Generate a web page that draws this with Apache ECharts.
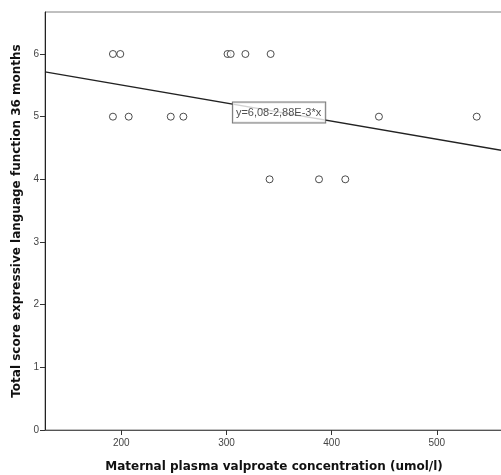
<!DOCTYPE html>
<html><head><meta charset="utf-8">
<script src="https://cdn.jsdelivr.net/npm/echarts@6/dist/echarts.min.js"></script>
<style>html,body{margin:0;padding:0;background:#fff}#c{width:501px;height:475px}</style>
</head><body><div id="c"></div>
<script>
// Data
const concentration = [192, 199, 301, 304, 318, 342, 192, 207, 247, 259, 445, 538, 341, 388, 413];
const score =         [6,   6,   6,   6,   6,   6,   5,   5,   5,   5,   5,   5,   4,   4,   4];
const xTicks = [200, 300, 400, 500];
const yTicks = [0, 1, 2, 3, 4, 5, 6];
const intercept = 6.08;
const slope = -0.00288;
const fitLabel = 'y=6,08-2,88E-3*x';
const labelAt = [350, 5.066];
const xMin = 127.4, xMax = 563;
const yMin = 0, yMax = 6.67;

const font = '"Liberation Sans", Arial, sans-serif';
const titleFont = '"DejaVu Sans", Verdana, sans-serif';
const chart = echarts.init(document.getElementById('c'), null, {renderer: 'canvas'});
chart.setOption({
  backgroundColor: '#fff',
  animation: false,
  grid: {left: 45, top: 12, right: -2, bottom: 45, containLabel: false, outerBoundsMode: 'none',
         show: true, borderColor: '#808080', borderWidth: 1},
  xAxis: {
    type: 'value', min: xMin, max: xMax,
    name: 'Maternal plasma valproate concentration (umol/l)',
    nameLocation: 'middle', nameGap: 31,
    nameTextStyle: {fontFamily: titleFont, fontWeight: 'bold', fontSize: 12, color: '#111'},
    axisLine: {show: true, lineStyle: {color: '#555', width: 1}},
    axisTick: {show: true, length: 5, customValues: xTicks, lineStyle: {color: '#333'}},
    axisLabel: {customValues: xTicks, fontFamily: font, fontSize: 10, color: '#444', margin: 8},
    splitLine: {show: false}
  },
  yAxis: {
    type: 'value', min: yMin, max: yMax,
    name: 'Total score expressive language function 36 months',
    nameLocation: 'middle', nameGap: 22,
    nameTextStyle: {fontFamily: titleFont, fontWeight: 'bold', fontSize: 12, color: '#111'},
    axisLine: {show: true, lineStyle: {color: '#222', width: 1}},
    axisTick: {show: true, length: 5, customValues: yTicks, lineStyle: {color: '#333'}},
    axisLabel: {customValues: yTicks, fontFamily: font, fontSize: 10, color: '#444', margin: 6},
    splitLine: {show: false}
  },
  series: [
    {
      type: 'line', silent: true, symbol: 'none', z: 2,
      lineStyle: {color: '#222', width: 1.3},
      data: [[xMin, intercept + slope * xMin], [xMax, intercept + slope * xMax]]
    },
    {
      type: 'scatter', z: 3, symbol: 'circle', symbolSize: 7,
      itemStyle: {color: '#fff', borderColor: '#222', borderWidth: 1},
      data: concentration.map((c, i) => [c, score[i]])
    },
    {
      type: 'scatter', z: 5, symbol: 'circle', symbolSize: 1, silent: true,
      itemStyle: {color: 'rgba(0,0,0,0)'},
      data: [labelAt],
      label: {
        show: true, position: 'inside', formatter: fitLabel,
        fontFamily: font, fontSize: 11, color: '#222',
        backgroundColor: '#fff', borderColor: '#555', borderWidth: 1,
        padding: [5, 4, 4, 3]
      }
    }
  ]
});
</script></body></html>
